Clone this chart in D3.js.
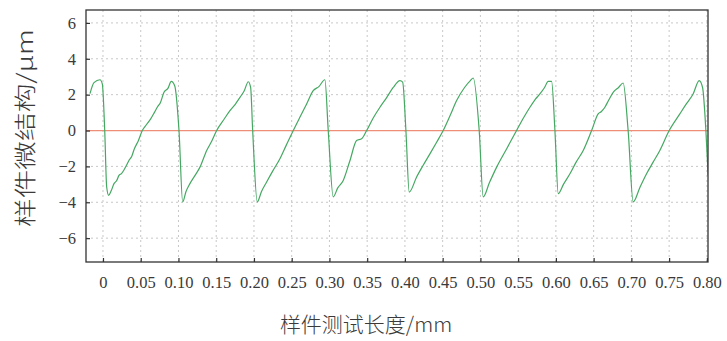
<!DOCTYPE html>
<html lang="zh">
<head>
<meta charset="utf-8">
<title>样件微结构</title>
<script src="https://cdnjs.cloudflare.com/ajax/libs/d3/7.8.5/d3.min.js"></script>
<style>
  body { margin: 0; background: #fff; }
  svg { display: block; }
  .tick text { font-family: "Liberation Serif", "Times New Roman", serif; font-size: 16.5px; }
</style>
</head>
<body>
<div id="chart"></div>
<script>
// measured profile: position along sample (mm) and height (um)
var posMm = [-0.0172, -0.0119, -0.0040, -0.0009, 0.0023, 0.0049, 0.0075, 0.0110, 0.0146, 0.0180, 0.0212, 0.0245, 0.0278,
  0.0310, 0.0344, 0.0380, 0.0411, 0.0470, 0.0521, 0.0580, 0.0632, 0.0680, 0.0719, 0.0760, 0.0808, 0.0860, 0.0905, 0.0950,
  0.1007, 0.1056, 0.1100, 0.1152, 0.1220, 0.1285, 0.1374, 0.1440, 0.1506, 0.1600, 0.1682, 0.1750, 0.1815, 0.1870, 0.1925,
  0.1956, 0.1983, 0.2044, 0.2100, 0.2168, 0.2250, 0.2344, 0.2430, 0.2521, 0.2610, 0.2698, 0.2785, 0.2860, 0.2940, 0.2984,
  0.3050, 0.3110, 0.3183, 0.3270, 0.3360, 0.3426, 0.3493, 0.3580, 0.3669, 0.3760, 0.3845, 0.3934, 0.3970, 0.4013, 0.4057,
  0.4155, 0.4240, 0.4331, 0.4420, 0.4507, 0.4600, 0.4685, 0.4790, 0.4870, 0.4905, 0.4984, 0.5037, 0.5120, 0.5215, 0.5350,
  0.5479, 0.5570, 0.5656, 0.5720, 0.5788, 0.5850, 0.5898, 0.5943, 0.5987, 0.6031, 0.6100, 0.6186, 0.6270, 0.6362, 0.6473,
  0.6560, 0.6600, 0.6649, 0.6700, 0.6759, 0.6830, 0.6891, 0.6957, 0.7024, 0.7110, 0.7201, 0.7290, 0.7377, 0.7501, 0.7642,
  0.7730, 0.7818, 0.7898, 0.7943, 0.7987, 0.8017];
var heightUm = [2.06, 2.67, 2.83, 2.60, 0.00, -3.15, -3.61, -3.35, -2.96, -2.80, -2.50, -2.40, -2.20, -1.95, -1.67, -1.45, -1.07,
  -0.55, 0.00, 0.35, 0.65, 1.00, 1.30, 1.55, 2.13, 2.35, 2.74, 2.50,
  0.00, -3.98, -3.40, -2.96, -2.50, -2.04, -1.11, -0.60, 0.00, 0.60, 1.11, 1.45, 1.85, 2.20, 2.72,
  2.40, 0.00, -3.98, -3.40, -2.87, -2.25, -1.57, -0.80, 0.00, 0.75, 1.48, 2.22, 2.45, 2.83, 0.00,
  -3.70, -3.20, -2.78, -1.70, -0.56, -0.46, 0.00, 0.70, 1.30, 1.85, 2.40, 2.78, 2.70, 0.00, -3.43,
  -2.59, -1.95, -1.30, -0.65, 0.00, 0.85, 1.67, 2.40, 2.80, 2.93, 0.00, -3.70, -2.90, -2.04, -1.00,
  0.00, 0.70, 1.30, 1.70, 2.04, 2.40, 2.74, 2.74, 0.00, -3.52, -3.00, -2.41, -1.75, -1.11, 0.00,
  0.93, 1.05, 1.30, 1.70, 2.13, 2.40, 2.65, 0.00, -3.98, -3.20, -2.41, -1.75, -1.11, 0.00, 0.93,
  1.50, 2.04, 2.78, 2.40, 0.00, -2.50];
var xTicks = [0, 0.05, 0.10, 0.15, 0.20, 0.25, 0.30, 0.35, 0.40, 0.45, 0.50, 0.55, 0.60, 0.65, 0.70, 0.75, 0.80];
var xTickLabels = ["0", "0.05", "0.10", "0.15", "0.20", "0.25", "0.30", "0.35", "0.40", "0.45", "0.50", "0.55", "0.60", "0.65", "0.70", "0.75", "0.80"];
var yTicks = [6, 4, 2, 0, -2, -4, -6];
var yTickLabels = ["6", "4", "2", "0", "\u22122", "\u22124", "\u22126"];
var xTitle = "样件测试长度/mm";
var yTitle = "样件微结构/\u03bcm";

var width = 727, height = 341;
var plotL = 86, plotR = 708, plotT = 10, plotB = 262;

var svg = d3.select("#chart").append("svg")
    .attr("width", width)
    .attr("height", height);

var x = d3.scaleLinear().domain([-0.0225, 0.8015]).range([plotL, plotR]);
var y = d3.scaleLinear().domain([-7.33, 6.72]).range([plotB, plotT]);

// dotted grid
svg.append("g").selectAll("line").data(yTicks).enter().append("line")
    .attr("x1", plotL).attr("x2", plotR)
    .attr("y1", function(d){ return y(d); })
    .attr("y2", function(d){ return y(d); })
    .attr("stroke", "#c8c8c8").attr("stroke-width", 1)
    .attr("stroke-dasharray", "2,3");
svg.append("g").selectAll("line").data(xTicks).enter().append("line")
    .attr("y1", plotT).attr("y2", plotB)
    .attr("x1", function(d){ return x(d); })
    .attr("x2", function(d){ return x(d); })
    .attr("stroke", "#c8c8c8").attr("stroke-width", 1)
    .attr("stroke-dasharray", "2,3");

// zero reference line
svg.append("line")
    .attr("x1", plotL).attr("x2", plotR)
    .attr("y1", y(0)).attr("y2", y(0))
    .attr("stroke", "#ef8e78").attr("stroke-width", 1.3);

// profile
var line = d3.line()
    .x(function(d, i){ return x(posMm[i]); })
    .y(function(d){ return y(d); })
    .curve(d3.curveMonotoneX);
svg.append("clipPath").attr("id", "clip").append("rect")
    .attr("x", plotL).attr("y", plotT).attr("width", plotR - plotL).attr("height", plotB - plotT);
svg.append("path")
    .datum(heightUm)
    .attr("clip-path", "url(#clip)")
    .attr("d", line)
    .attr("fill", "none")
    .attr("stroke", "#45a862")
    .attr("stroke-width", 1.2)
    .attr("stroke-linejoin", "round");

// frame
svg.append("rect")
    .attr("x", plotL).attr("y", plotT)
    .attr("width", plotR - plotL).attr("height", plotB - plotT)
    .attr("fill", "none").attr("stroke", "#333").attr("stroke-width", 1.3);

// axes with inward ticks
var xAxis = d3.axisBottom(x).tickValues(xTicks).tickSizeInner(-4).tickSizeOuter(0)
    .tickFormat(function(d, i){ return xTickLabels[i]; }).tickPadding(14);
var gx = svg.append("g").attr("transform", "translate(0," + plotB + ")").call(xAxis);
var yAxis = d3.axisLeft(y).tickValues(yTicks).tickSizeInner(-4).tickSizeOuter(0)
    .tickFormat(function(d, i){ return yTickLabels[i]; }).tickPadding(10);
var gy = svg.append("g").attr("transform", "translate(" + plotL + ",0)").call(yAxis);

[gx, gy].forEach(function(g){
  g.select(".domain").remove();
  g.selectAll(".tick line").attr("stroke", "#333").attr("stroke-width", 1.2);
  g.selectAll(".tick text").attr("fill", "#3a3a3a");
});

// titles
svg.append("text")
    .text(xTitle)
    .attr("x", 366).attr("y", 332)
    .attr("text-anchor", "middle")
    .attr("font-family", "'Noto Sans CJK SC', sans-serif")
    .attr("font-size", "21px")
    .attr("font-weight", 300)
    .attr("fill", "#3a3a3a");
svg.append("text")
    .text(yTitle)
    .attr("transform", "translate(33,128) rotate(-90)")
    .attr("text-anchor", "middle")
    .attr("textLength", 198)
    .attr("lengthAdjust", "spacingAndGlyphs")
    .attr("font-family", "'Noto Sans CJK SC', sans-serif")
    .attr("font-size", "22px")
    .attr("font-weight", 300)
    .attr("fill", "#3a3a3a");
</script>
</body>
</html>
